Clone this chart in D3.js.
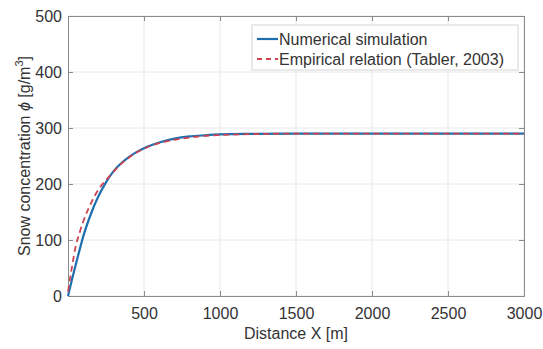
<!DOCTYPE html>
<html>
<head>
<meta charset="utf-8">
<script src="https://cdn.jsdelivr.net/npm/d3@7"></script>
<style>
  body { margin: 0; background: #fff; }
  svg { display: block; font-family: "Liberation Sans", Arial, sans-serif; }
</style>
</head>
<body>
<div id="chart"></div>
<script>
'use strict'

// distance along fetch [m]
const simX = [0, 25, 50, 75, 100, 150, 200, 250, 300, 350, 400, 450, 500, 600, 700, 800, 900, 1000, 1200, 1500, 2000, 3000];
// numerical simulation, snow concentration [g/m3]
const simY = [0, 28, 55, 81, 106, 146, 178, 203, 223, 237, 248, 257, 264, 274, 281, 285, 287, 288.5, 289.5, 290, 290, 290];

const empX = [0, 25, 50, 75, 100, 150, 200, 250, 300, 350, 400, 450, 500, 600, 700, 800, 900, 1000, 1200, 1500, 2000, 3000];
// empirical relation (Tabler, 2003)
const empY = [8, 50, 88, 112, 133, 165, 190, 207, 222, 236, 247, 256, 263, 273, 279, 283, 286, 287.5, 289, 290, 290, 290];

const xTicks = [500, 1000, 1500, 2000, 2500, 3000];
const yTicks = [0, 100, 200, 300, 400, 500];
const legendLabels = ['Numerical simulation', 'Empirical relation (Tabler, 2003)'];

////////////////////////////////////////
////////////// SVG Setup ///////////////
////////////////////////////////////////

const width = 543, height = 349;
const margin = { top: 16, right: 19, bottom: 53, left: 68 };

const svg = d3.select('#chart').append('svg')
  .attr('width', width)
  .attr('height', height);

const x = d3.scaleLinear().domain([0, 3000]).range([margin.left, width - margin.right]);
const y = d3.scaleLinear().domain([0, 500]).range([height - margin.bottom, margin.top]);

const axisColor = '#8a8a8a';
const textColor = '#333';
const fontSize = 16;

// grid
svg.append('g')
  .selectAll('line')
  .data(xTicks)
  .join('line')
  .attr('x1', d => x(d)).attr('x2', d => x(d))
  .attr('y1', y(0)).attr('y2', y(500))
  .attr('stroke', '#e8e8e8');

svg.append('g')
  .selectAll('line')
  .data(yTicks)
  .join('line')
  .attr('x1', x(0)).attr('x2', x(3000))
  .attr('y1', d => y(d)).attr('y2', d => y(d))
  .attr('stroke', '#e8e8e8');

// axes
svg.append('g')
  .attr('transform', `translate(0,${y(0)})`)
  .call(d3.axisBottom(x).tickValues(xTicks).tickSize(-5).tickPadding(12).tickFormat(d3.format('d')));

svg.append('g')
  .attr('transform', `translate(${x(0)},0)`)
  .call(d3.axisLeft(y).tickValues(yTicks).tickSize(-5).tickPadding(6).tickFormat(d3.format('d')));

// top / right box with inner ticks
svg.append('g')
  .attr('transform', `translate(0,${y(500)})`)
  .call(d3.axisTop(x).tickValues(xTicks).tickSize(-5).tickFormat(''));

svg.append('g')
  .attr('transform', `translate(${x(3000)},0)`)
  .call(d3.axisRight(y).tickValues(yTicks).tickSize(-5).tickFormat(''));

svg.selectAll('.domain, .tick line').attr('stroke', axisColor);
svg.selectAll('.tick text')
  .attr('fill', textColor)
  .attr('font-size', fontSize)
  .attr('font-family', '"Liberation Sans", Arial, sans-serif');

// axis labels
svg.append('text')
  .attr('x', (x(0) + x(3000)) / 2)
  .attr('y', 339)
  .attr('text-anchor', 'middle')
  .attr('font-size', fontSize)
  .attr('fill', textColor)
  .text('Distance X [m]');

const yLabel = svg.append('text')
  .attr('transform', `translate(30,${(y(0) + y(500)) / 2}) rotate(-90)`)
  .attr('text-anchor', 'middle')
  .attr('font-size', fontSize)
  .attr('fill', textColor);
yLabel.append('tspan').text('Snow concentration ');
yLabel.append('tspan').attr('font-style', 'italic').text('ϕ');
yLabel.append('tspan').text(' [g/m');
yLabel.append('tspan').attr('font-size', 11).attr('dy', -7).text('3');
yLabel.append('tspan').attr('dy', 7).text(']');

////////////////////////////////////////
////////////// Lines ///////////////////
////////////////////////////////////////

const line = d3.line()
  .x(d => x(d[0]))
  .y(d => y(d[1]))
  .curve(d3.curveMonotoneX);

svg.append('path')
  .datum(simX.map((d, i) => [d, simY[i]]))
  .attr('d', line)
  .attr('fill', 'none')
  .attr('stroke', '#1f6fae')
  .attr('stroke-width', 2.2);

svg.append('path')
  .datum(empX.map((d, i) => [d, empY[i]]))
  .attr('d', line)
  .attr('fill', 'none')
  .attr('stroke', '#cc4452')
  .attr('stroke-width', 1.8)
  .attr('stroke-dasharray', '6,4');

////////////////////////////////////////
////////////// Legend //////////////////
////////////////////////////////////////

const legend = svg.append('g');

legend.append('rect')
  .attr('x', 252).attr('y', 25)
  .attr('width', 266).attr('height', 45)
  .attr('fill', '#fff')
  .attr('stroke', '#d4d4d4');

const legendStyles = [
  { stroke: '#1f6fae', dash: null, width: 2.2 },
  { stroke: '#cc4452', dash: '5,4', width: 1.8 }
];

legend.selectAll('.leg-line')
  .data(legendLabels)
  .join('line')
  .attr('x1', 257).attr('x2', 278)
  .attr('y1', (d, i) => 39 + i * 20).attr('y2', (d, i) => 39 + i * 20)
  .attr('stroke', (d, i) => legendStyles[i].stroke)
  .attr('stroke-width', (d, i) => legendStyles[i].width)
  .attr('stroke-dasharray', (d, i) => legendStyles[i].dash);

legend.selectAll('.leg-text')
  .data(legendLabels)
  .join('text')
  .attr('x', 279)
  .attr('y', (d, i) => 39 + i * 20)
  .attr('dy', '0.35em')
  .attr('font-size', fontSize)
  .attr('fill', textColor)
  .text(d => d);
</script>
</body>
</html>
